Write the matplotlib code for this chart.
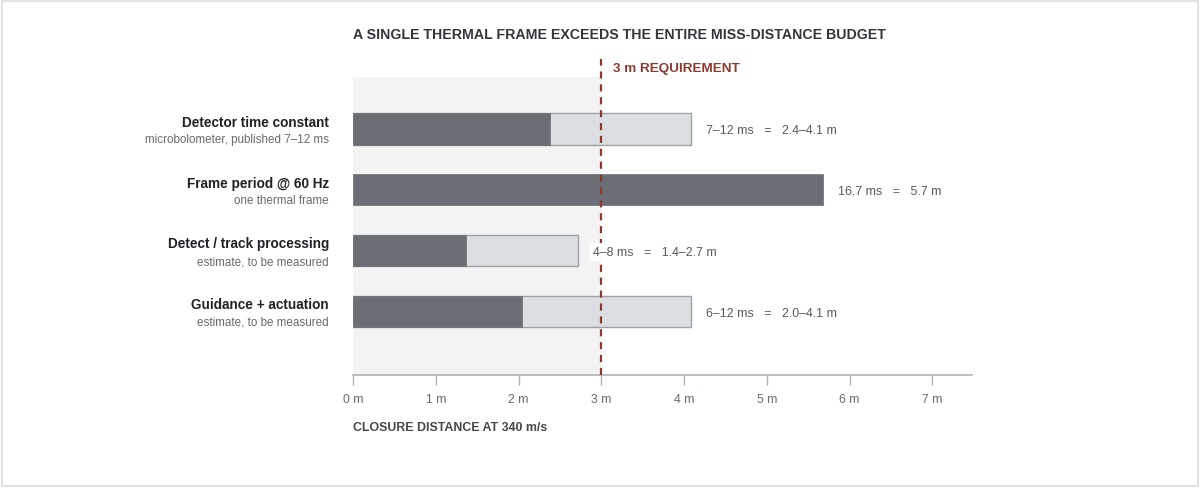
import numpy as np
import matplotlib
matplotlib.use("Agg")
import matplotlib.pyplot as plt
from matplotlib.patches import Rectangle

plt.rcParams["font.family"] = ["Liberation Sans", "DejaVu Sans"]

# rows, top to bottom
names = ["Detector time constant", "Frame period @ 60 Hz",
         "Detect / track processing", "Guidance + actuation"]
notes = ["microbolometer, published 7\u201312 ms", "one thermal frame",
         "estimate, to be measured", "estimate, to be measured"]
low_m = [2.38, 5.68, 1.36, 2.04]    # lower bound, metres
high_m = [4.08, 5.68, 2.72, 4.08]   # upper bound, metres
value_labels = ["7\u201312 ms   =   2.4\u20134.1 m",
                "16.7 ms   =   5.7 m",
                "4\u20138 ms   =   1.4\u20132.7 m",
                "6\u201312 ms   =   2.0\u20134.1 m"]
requirement = 3.0
ticks = [0, 1, 2, 3, 4, 5, 6, 7]

dark = "#6b6e75"
light = "#dcdfe2"
red = "#8b3a2f"
grey_txt = "#666a70"

fig = plt.figure(figsize=(12, 4.89), dpi=100)
fig.patches.append(Rectangle((0.002, 0.004), 0.996, 0.992, transform=fig.transFigure,
                             fill=False, edgecolor="#e0e2e5", linewidth=1.5))

ax = fig.add_axes([353 / 1200, 1 - 376 / 489, (972 - 353) / 1200, (376 - 78) / 489])
ax.set_xlim(0, 7.48)
ax.set_ylim(4.044, -0.855)

# shaded zone below requirement
ax.axvspan(0, requirement, color="#f2f3f2", zorder=0, linewidth=0)

y = np.arange(len(names))
h = 0.51
for i in range(len(names)):
    if high_m[i] > low_m[i]:
        ax.barh(y[i], high_m[i], height=h, color=light, edgecolor="#9ea2a7",
                linewidth=1, zorder=2)
    ax.barh(y[i], low_m[i], height=h, color=dark, edgecolor=dark,
            linewidth=0.5, zorder=3)
    ax.text(high_m[i] + 0.18, y[i] + 0.02, value_labels[i], va="center", ha="left",
            fontsize=8.9, color="#55585e", zorder=6,
            bbox=dict(boxstyle="square,pad=0.25", facecolor="white", edgecolor="none"))
    ax.text(-0.29, y[i] - 0.12, names[i], ha="right", va="center",
            fontsize=9.8, fontweight="bold", color="#1f2226")
    ax.text(-0.29, y[i] + 0.17, notes[i], ha="right", va="center",
            fontsize=8.4, color=grey_txt)

ax.axvline(requirement, ymin=0, ymax=1.06, color=red, linestyle=(0, (3.2, 2.6)),
           linewidth=1.6, zorder=4, clip_on=False)
ax.text(requirement + 0.14, -1.0, "3 m REQUIREMENT", ha="left", va="center",
        fontsize=9.7, fontweight="bold", color=red)

for s in ["top", "right", "left"]:
    ax.spines[s].set_visible(False)
ax.spines["bottom"].set_color("#b0b3b8")
ax.spines["bottom"].set_linewidth(1.2)
ax.set_yticks([])
ax.set_xticks(ticks)
ax.set_xticklabels([f"{t} m" for t in ticks])
ax.tick_params(axis="x", length=7, width=1, color="#b0b3b8", pad=6,
               labelsize=8.8, labelcolor=grey_txt)

fig.text(353 / 1200, 1 - 35 / 489, "A SINGLE THERMAL FRAME EXCEEDS THE ENTIRE MISS-DISTANCE BUDGET",
         ha="left", va="center", fontsize=10.2, fontweight="bold", color="#33363b")
fig.text(353 / 1200, 1 - 428 / 489, "CLOSURE DISTANCE AT 340 m/s",
         ha="left", va="center", fontsize=8.9, fontweight="bold", color="#44474c")

fig.savefig("out.png", dpi=100)
